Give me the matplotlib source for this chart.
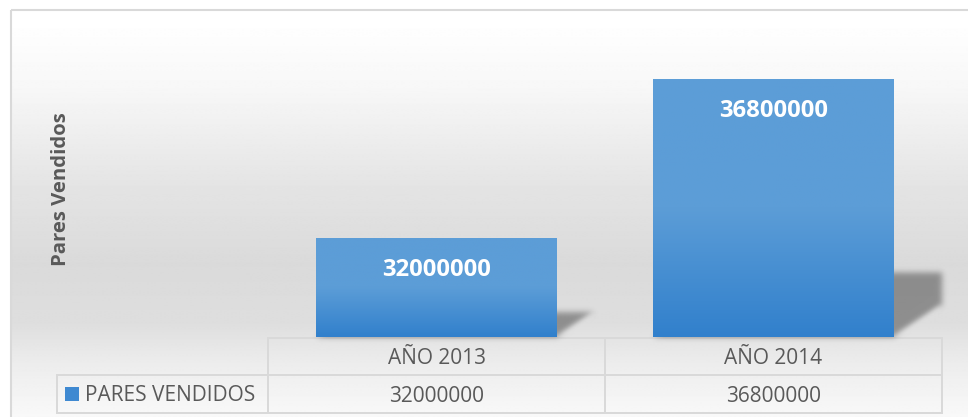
import numpy as np
import matplotlib

matplotlib.use("Agg")

import matplotlib.pyplot as plt  # noqa: E402
from matplotlib.colors import LinearSegmentedColormap  # noqa: E402
from matplotlib.patches import Polygon, Rectangle  # noqa: E402

W, H = 968, 417

categories = ["AÑO 2013", "AÑO 2014"]
pares_vendidos = [32000000, 36800000]
series_name = "PARES VENDIDOS"
axis_title = "Pares Vendidos"

TEXT_GRAY = "#595959"
GRID_GRAY = "#d9d9d9"
BAR_TOP = "#5c9dd7"
BAR_BOTTOM = "#3180cc"

plt.rcParams["font.family"] = ["Open Sans", "DejaVu Sans"]


def _gauss_blur(sigma):
    pad = int(3 * sigma)
    t = np.arange(-pad, pad + 1)
    k = np.exp(-0.5 * (t / sigma) ** 2)
    k /= k.sum()

    def _filter(im, dpi):
        out = np.pad(im, ((pad, pad), (pad, pad), (0, 0)))
        out = np.apply_along_axis(lambda m: np.convolve(m, k, mode="same"), 0, out)
        out = np.apply_along_axis(lambda m: np.convolve(m, k, mode="same"), 1, out)
        return out, -pad, -pad

    return _filter


fig = plt.figure(figsize=(W / 100, H / 100), dpi=100)
fig.patch.set_facecolor("white")

# pixel-space layer: chart background, frame, data table
bg = fig.add_axes([0, 0, 1, 1])
bg.set_axis_off()
rows = np.arange(H)
shade = np.interp(rows, [10, 80, 180, 260, 320, 360, 417],
                  [255, 247, 228, 218, 222, 236, 249]) / 255
bg.imshow(np.repeat(shade[:, None], 2, axis=1), cmap="gray", vmin=0, vmax=1,
          extent=(11, W, H, 10), aspect="auto", interpolation="bilinear", zorder=0)
bg.add_patch(Rectangle((11, 10), W, H, fill=False, ec=GRID_GRAY, lw=1.5, zorder=1))
bg.set_xlim(0, W)
bg.set_ylim(H, 0)

# plot area
ax = fig.add_axes([268 / W, (H - 337) / H, 674 / W, 298 / H])
ax.set_axis_off()
ymin, ymax = 29e6, 38e6
x = np.arange(len(categories))
bars = ax.bar(x, pares_vendidos, width=0.715, color=BAR_BOTTOM, zorder=3)

bar_cmap = LinearSegmentedColormap.from_list("bar", [BAR_TOP, BAR_TOP, BAR_BOTTOM], N=256)
grad = np.linspace(0, 1, 256)[:, None]
sx = ax.bbox.width / 2.0
sy = ax.bbox.height / (ymax - ymin)
for bar, v in zip(bars, pares_vendidos):
    x0, w = bar.get_x(), bar.get_width()
    im = ax.imshow(grad, cmap=bar_cmap, extent=(x0, x0 + w, ymin, v), origin="upper",
                   aspect="auto", zorder=4)
    im.set_clip_path(bar)

    # soft perspective shadow behind each bar
    rise = 0.25 * (v - ymin) * sy
    shift = 1.5 * rise
    shadow = Polygon([(x0, ymin), (x0 + w, ymin),
                      (x0 + w + shift / sx, ymin + rise / sy),
                      (x0 + shift / sx, ymin + rise / sy)],
                     closed=True, fc=(0, 0, 0, 0.36), ec="none", zorder=2)
    shadow.set_agg_filter(_gauss_blur(3))
    ax.add_patch(shadow)

    ax.annotate(f"{v}", (bar.get_x() + w / 2, v), xytext=(0, -38 * 0.72),
                textcoords="offset points", ha="center", va="baseline",
                color="white", fontsize=17.2, fontweight="bold", zorder=5)

ax.set_xlim(-0.5, 1.5)
ax.set_ylim(ymin, ymax)

bg.text(61, 189, axis_title, rotation=90, ha="center", va="center",
        color=TEXT_GRAY, fontsize=14.6, fontweight="bold")

# data table under the bars
edges = [ax.transData.transform((c, 0))[0] for c in (-0.5, 0.5, 1.5)]
top, mid, bottom, left = 338, 375, 413, 57
line_kw = dict(color=GRID_GRAY, lw=1.4, zorder=2, solid_capstyle="projecting")
bg.plot([edges[0], edges[-1]], [top, top], **line_kw)
bg.plot([left, edges[-1]], [mid, mid], **line_kw)
bg.plot([left, edges[-1]], [bottom, bottom], **line_kw)
for e in edges:
    bg.plot([e, e], [top, bottom], **line_kw)
bg.plot([left, left], [mid, bottom], **line_kw)

for i, (cat, v) in enumerate(zip(categories, pares_vendidos)):
    cx = (edges[i] + edges[i + 1]) / 2
    bg.text(cx, 364, cat, ha="center", va="baseline", color=TEXT_GRAY, fontsize=15)
    bg.text(cx, 402, f"{v}", ha="center", va="baseline", color=TEXT_GRAY, fontsize=15)

bg.add_patch(Rectangle((65, 387), 14, 14, fc="#3f89d1", ec="none", zorder=3))
bg.text(85, 401, series_name, ha="left", va="baseline", color=TEXT_GRAY, fontsize=15)

fig.savefig("out.png", dpi=100)
